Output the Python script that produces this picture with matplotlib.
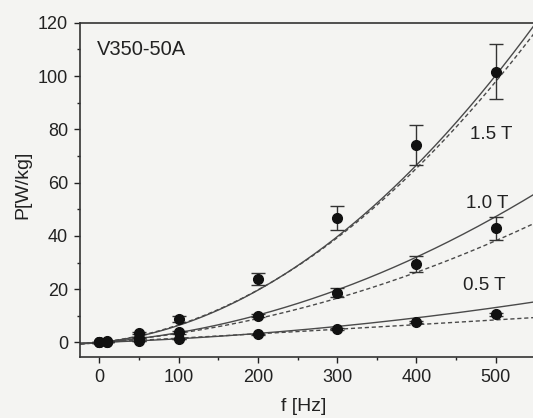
import numpy as np
import matplotlib
matplotlib.use("Agg")
import matplotlib.pyplot as plt
from matplotlib.ticker import MultipleLocator

plt.rcParams['font.family'] = ['Liberation Sans', 'DejaVu Sans']

# measured losses, V350-50A sheet
freq = [0, 10, 50, 100, 200, 300, 400, 500]
p_15 = [0.0, 0.4, 3.6, 8.8, 23.8, 46.8, 74.1, 101.6]
e_15 = [0.1, 0.2, 0.5, 1.0, 2.4, 4.6, 7.4, 10.3]
p_10 = [0.0, 0.3, 1.8, 3.8, 10.1, 18.7, 29.5, 42.8]
e_10 = [0.1, 0.1, 0.3, 0.5, 0.6, 1.7, 3.0, 4.2]
p_05 = [0.0, 0.2, 0.6, 1.3, 3.1, 5.1, 7.6, 10.6]
e_05 = [0.05, 0.05, 0.1, 0.1, 0.2, 0.3, 0.4, 0.5]

inductions = ['1.5 T', '1.0 T', '0.5 T']

# model curves P = a*f + b*f^2
solid_a = [0.0300, 0.0226, 0.0107]
solid_b = [3.41e-4, 1.437e-4, 3.1e-5]
dash_a = [0.0338, 0.0237, 0.0158]
dash_b = [3.24e-4, 1.053e-4, 2.2e-6]

ink = '#222222'
paper = '#f4f4f2'

fig = plt.figure(figsize=(5.33, 4.18), dpi=100, facecolor=paper)
ax = fig.add_axes([0.151, 0.147, 0.8994, 0.7985], facecolor=paper)

ff = np.linspace(-24, 600, 400)
for a, b in zip(solid_a, solid_b):
    ax.plot(ff, a * ff + b * ff**2, color='#4a4a4a', lw=1.0)
for a, b in zip(dash_a, dash_b):
    ax.plot(ff, a * ff + b * ff**2, color='#4a4a4a', lw=1.0, ls=(0, (3, 2)))

for p, e in [(p_15, e_15), (p_10, e_10), (p_05, e_05)]:
    ax.errorbar(freq, p, yerr=e, fmt='o', color='#333333', mfc='#111111',
                mec='#111111', ms=7, elinewidth=1.0, capsize=5, capthick=1.0,
                zorder=3)

ax.text(-3.3, 109.8, 'V350-50A', fontsize=14.5, color=ink, va='center', ha='left')
label_pos = [(468, 77.9), (462, 52.3), (459, 21.2)]
for (x, y), name in zip(label_pos, inductions):
    ax.text(x, y, name, fontsize=13.5, color=ink, va='center', ha='left')

ax.set_xlim(-24, 581)
ax.set_ylim(-5.3, 120)
ax.xaxis.set_major_locator(MultipleLocator(100))
ax.xaxis.set_minor_locator(MultipleLocator(50))
ax.yaxis.set_major_locator(MultipleLocator(20))
ax.yaxis.set_minor_locator(MultipleLocator(10))
ax.tick_params(which='major', direction='out', length=4, width=1.0,
               labelsize=13, colors=ink, pad=5)
ax.tick_params(which='minor', direction='out', length=2.5, width=1.0, colors=ink)
ax.tick_params(top=False, right=False)
ax.spines['right'].set_visible(False)
for s in ['left', 'bottom', 'top']:
    ax.spines[s].set_linewidth(1.2)
    ax.spines[s].set_color('#333333')

ax.set_xlabel('f [Hz]', fontsize=14, color=ink)
ax.set_ylabel('P[W/kg]', fontsize=14, color=ink)
ax.xaxis.set_label_coords(0.466, -0.124)
ax.yaxis.set_label_coords(-0.103, 0.514)

fig.savefig('out.png', dpi=100, facecolor=paper)
